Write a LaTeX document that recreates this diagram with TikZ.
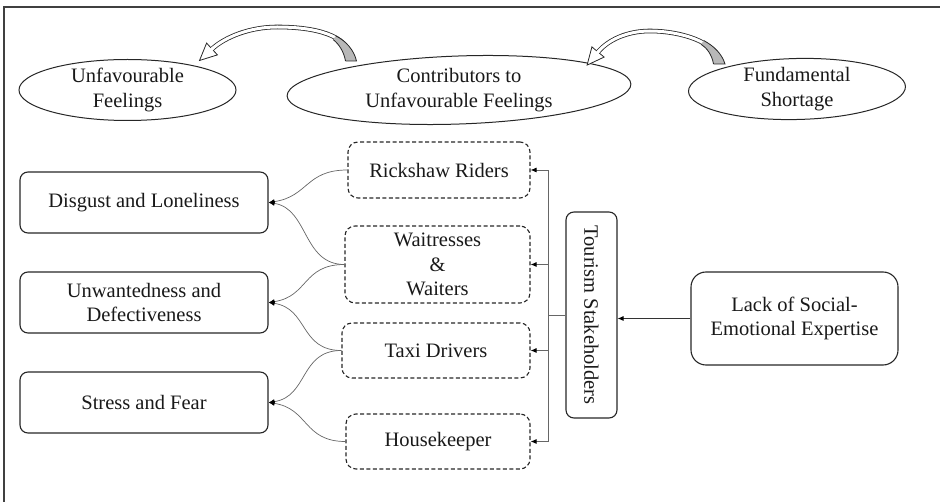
\documentclass[tikz,border=0pt]{standalone}
\usepackage{fontspec}
\setmainfont{Liberation Serif}
\usetikzlibrary{arrows.meta,shapes.geometric}
\begin{document}
\begin{tikzpicture}[x=1pt,y=-1pt,
  every node/.style={font=\fontsize{20.5}{24.5}\selectfont, align=center, inner sep=0pt, text=black!90},
  solidbox/.style={draw=black!85, line width=1.1pt, rounded corners=8pt, minimum width=248pt, minimum height=61pt},
  dashbox/.style={draw=black!85, line width=1.1pt, dash pattern=on 4pt off 2.5pt, rounded corners=10pt},
  ell/.style={draw=black!85, line width=1pt},
  conn/.style={draw=black!60, line width=0.7pt, -{Latex[length=6pt,width=5pt,color=black]}},
  trunk/.style={draw=black!60, line width=0.9pt},
  trunkarrow/.style={trunk, -{Latex[length=6pt,width=5pt,color=black]}},
  band/.style={draw=black!85, line width=0.8pt, double=white, double distance=3pt},
  bandline/.style={draw=black!85, line width=0.8pt},
]
\useasboundingbox (0,0) rectangle (940,502);
\draw[line width=1.2pt, black!75] (4,502) -- (4,7) -- (940,7);

% ellipses
\node (uf) at (127.5,90) {Unfavourable\\Feelings};
\draw[ell] (uf.center) ellipse [x radius=108.5pt, y radius=30.5pt];
\node (cf) at (459,90) {Contributors to\\Unfavourable Feelings};
\draw[ell, rotate around={2:(cf.center)}] (cf.center) ellipse [x radius=172pt, y radius=34pt];
\node (fs) at (797,89) {Fundamental\\Shortage};
\draw[ell, rotate around={1.3:(fs.center)}] (fs.center) ellipse [x radius=108.5pt, y radius=30.5pt];

% curved block arrow 1
\draw[band] (351,58) .. controls (348,35) and (315,27) .. (277,27) .. controls (250,27) and (225,37) .. (212,49);
\filldraw[bandline, fill=white] (199.5,60.5) -- (217.4,54.9) -- (206.6,43.1) -- cycle;
\draw[white, line width=3pt] (213.5,47.6) -- (209.8,51);
\fill[black!28] (345.5,61) .. controls (344,52) and (339,44) .. (333.1,39.6) -- (335.9,36) .. controls (346,41) and (354,50) .. (356.5,61) -- cycle;
\draw[bandline] (345.5,61) .. controls (344,52) and (339,44) .. (333.1,39.6);
\draw[bandline] (335.9,36) .. controls (346,41) and (354,50) .. (356.5,61) -- (345.5,61);

% curved block arrow 2
\draw[band] (719,62) .. controls (717,42) and (680,31) .. (650,31) .. controls (627,31) and (608,40) .. (598,52);
\filldraw[bandline, fill=white] (587.1,65.1) -- (604.1,57.1) -- (591.9,46.9) -- cycle;
\draw[white, line width=3pt] (599.3,50.5) -- (596.1,54.3);
\fill[black!28] (713.5,64) .. controls (712,55) and (707,48) .. (701,44.2) -- (703.8,40.6) .. controls (714,46) and (722,54) .. (725,64) -- cycle;
\draw[bandline] (713.5,64) .. controls (712,55) and (707,48) .. (701,44.2);
\draw[bandline] (703.8,40.6) .. controls (714,46) and (722,54) .. (725,64) -- (713.5,64);

% left boxes
\node[solidbox] (dl) at (144,202.5) {Disgust and Loneliness};
\node[solidbox] (ud) at (144,302.5) {Unwantedness and\\Defectiveness};
\node[solidbox] (sf) at (144,402.5) {Stress and Fear};

% dashed boxes
\node[dashbox, minimum width=182pt, minimum height=56pt] (rr) at (439,170) {Rickshaw Riders};
\node[dashbox, minimum width=185pt, minimum height=77pt] (ww) at (437.5,264.5) {Waitresses\\\&\\Waiters};
\node[dashbox, minimum width=188pt, minimum height=55pt] (td) at (436,350.5) {Taxi Drivers};
\node[dashbox, minimum width=184pt, minimum height=55pt] (hk) at (438,441.5) {Housekeeper};

% tourism stakeholders
\node[draw=black!85, line width=1.1pt, rounded corners=8pt, minimum width=206pt, minimum height=51pt, rotate=-90] (ts) at (591.5,315) {Tourism Stakeholders};
\node[draw=black!85, line width=1.1pt, rounded corners=15pt, minimum width=207pt, minimum height=93pt] (ls) at (794.5,318.5) {Lack of Social-\\Emotional Expertise};

\draw[draw=black!80, line width=0.9pt, -{Latex[length=6pt,width=5pt,color=black]}] (ls.west) -- (ls.west -| ts.north);

\coordinate (j) at (548,315);
\draw[trunk] (ts.south) -- (j);
\draw[trunkarrow] (j) |- (rr.east);
\draw[trunkarrow] (j) |- (ww.east);
\draw[trunkarrow] (j) |- (td.east);
\draw[trunkarrow] (j) |- (hk.east);

% curved connectors
\draw[conn] (rr.west) .. controls +(-42,0) and +(40,-6) .. (dl.east);
\draw[conn] (ww.west) .. controls +(-42,0) and +(40,6) .. (dl.east);
\draw[conn] (ww.west) .. controls +(-42,0) and +(40,-6) .. (ud.east);
\draw[conn] (td.west) .. controls +(-42,0) and +(40,6) .. (ud.east);
\draw[conn] (td.west) .. controls +(-42,0) and +(40,-6) .. (sf.east);
\draw[conn] (hk.west) .. controls +(-42,0) and +(40,6) .. (sf.east);
\end{tikzpicture}
\end{document}
